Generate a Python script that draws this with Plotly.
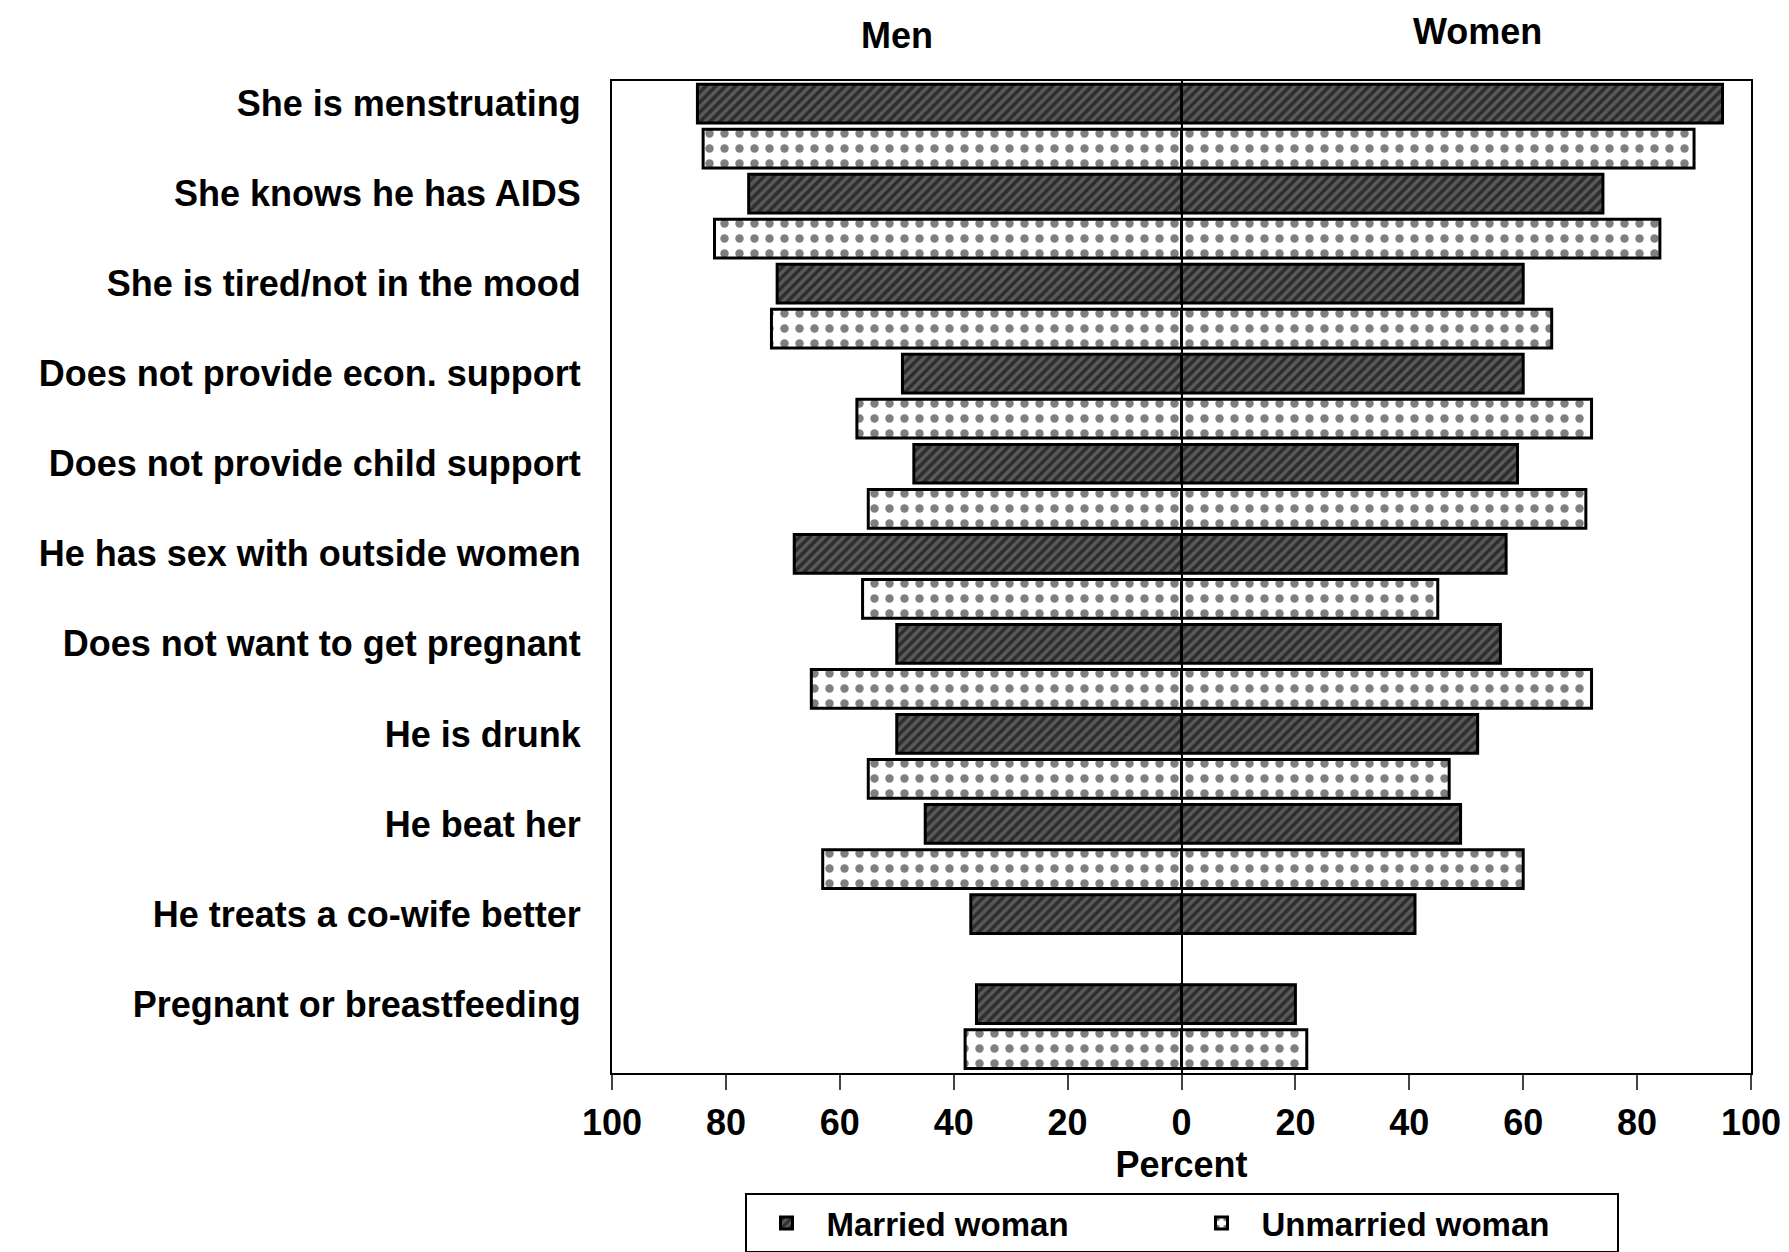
import plotly.graph_objects as go

categories = [
    "She is menstruating",
    "She knows he has AIDS",
    "She is tired/not in the mood",
    "Does not provide econ. support",
    "Does not provide child support",
    "He has sex with outside women",
    "Does not want to get pregnant",
    "He is drunk",
    "He beat her",
    "He treats a co-wife better",
    "Pregnant or breastfeeding",
]

# percent agreeing a wife may refuse sex, by respondent sex
married_men = [85, 76, 71, 49, 47, 68, 50, 50, 45, 37, 36]
married_women = [95, 74, 60, 60, 59, 57, 56, 52, 49, 41, 20]
unmarried_men = [84, 82, 72, 57, 55, 56, 65, 55, 63, None, 38]
unmarried_women = [90, 84, 65, 72, 71, 45, 72, 47, 60, None, 22]

tick_vals = [-100, -80, -60, -40, -20, 0, 20, 40, 60, 80, 100]
tick_text = ["100", "80", "60", "40", "20", "0", "20", "40", "60", "80", "100"]

FONT = "Liberation Sans"
FS = 36

married_y = [2 * i for i in range(len(categories))]
unmarried_y = [2 * i + 1 for i in range(len(categories))]

married_style = dict(
    color="white",
    line=dict(color="black", width=3),
    pattern=dict(shape="/", fgcolor="black", bgcolor="#5a5a5a", size=7, solidity=0.5),
)
unmarried_style = dict(
    color="white",
    line=dict(color="black", width=3),
    pattern=dict(shape=".", fgcolor="black", bgcolor="white", size=15, solidity=0.25),
)


def neg(vals):
    return [None if v is None else -v for v in vals]


fig = go.Figure()

fig.add_trace(go.Bar(
    x=neg(married_men), y=married_y, orientation="h", width=0.86,
    name="Married woman", marker=married_style, showlegend=True,
    legendgroup="m",
))
fig.add_trace(go.Bar(
    x=married_women, y=married_y, orientation="h", width=0.86,
    name="Married woman", marker=married_style, showlegend=False,
    legendgroup="m",
))
fig.add_trace(go.Bar(
    x=neg(unmarried_men), y=unmarried_y, orientation="h", width=0.86,
    name="Unmarried woman", marker=unmarried_style, showlegend=True,
    legendgroup="u",
))
fig.add_trace(go.Bar(
    x=unmarried_women, y=unmarried_y, orientation="h", width=0.86,
    name="Unmarried woman", marker=unmarried_style, showlegend=False,
    legendgroup="u",
))

fig.add_annotation(text="<b>Men</b>", x=-50, xref="x", y=1.046, yref="paper",
                   yanchor="middle", showarrow=False,
                   font=dict(family=FONT, size=FS, color="black"))
fig.add_annotation(text="<b>Women</b>", x=52, xref="x", y=1.05, yref="paper",
                   yanchor="middle", showarrow=False,
                   font=dict(family=FONT, size=FS, color="black"))

# page body adds an 8px offset, so the figure is sized/margined to compensate
fig.update_layout(
    width=1781,
    height=1244,
    paper_bgcolor="white",
    plot_bgcolor="white",
    barmode="overlay",
    margin=dict(l=604, r=38, t=73, b=179, autoexpand=False),
    font=dict(family=FONT, size=FS, color="black"),
    xaxis=dict(
        range=[-100, 100],
        tickvals=tick_vals,
        ticktext=tick_text,
        ticks="outside",
        ticklen=15,
        tickwidth=2,
        showgrid=False,
        zeroline=True,
        zerolinecolor="black",
        zerolinewidth=2,
        showline=True,
        linecolor="black",
        linewidth=2,
        mirror=True,
        ticklabelstandoff=2,
        title=dict(text="<b>Percent</b>", standoff=10,
                   font=dict(family=FONT, size=FS)),
        tickfont=dict(family=FONT, size=FS, weight="bold"),
    ),
    yaxis=dict(
        range=[len(categories) * 2 - 0.47, -0.5],
        tickvals=married_y,
        ticktext=categories,
        ticks="",
        showgrid=False,
        zeroline=False,
        showline=True,
        linecolor="black",
        linewidth=2,
        mirror=True,
        tickfont=dict(family=FONT, size=FS, weight="bold"),
        ticklabelstandoff=22,
    ),
    legend=dict(
        orientation="h",
        x=0.5, xanchor="center",
        y=-0.121, yanchor="top",
        bordercolor="black",
        borderwidth=2,
        font=dict(family=FONT, size=33, weight="bold"),
        itemwidth=70,
        entrywidth=350,
        traceorder="normal",
    ),
)

fig.write_html("out.html")
